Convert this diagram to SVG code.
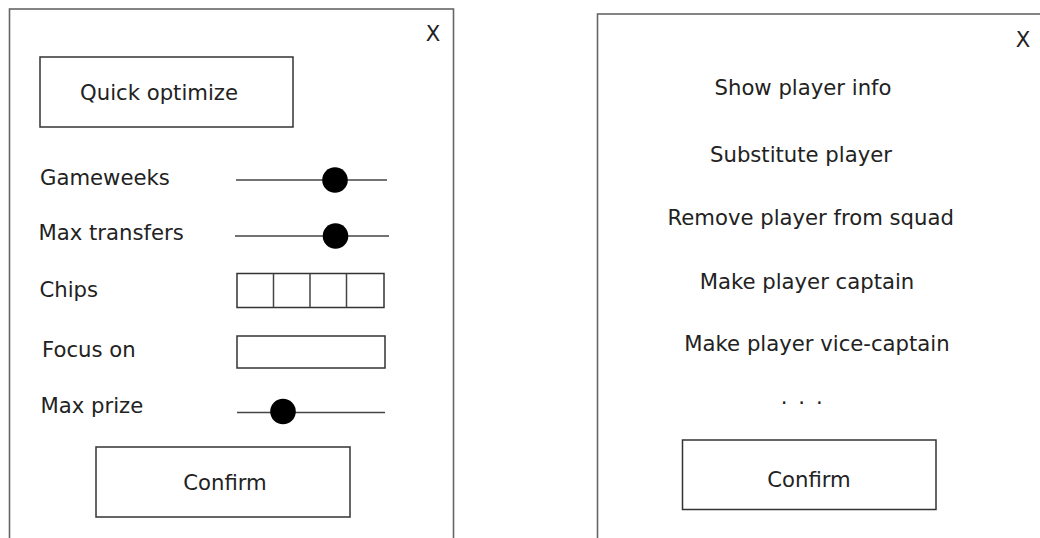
<svg xmlns="http://www.w3.org/2000/svg" width="1040" height="538" viewBox="0 0 1040 538">
<style>
.panel{fill:#fff;stroke:#666;stroke-width:1.6}
.box{fill:#fff;stroke:#333;stroke-width:1.5}
.track{stroke:#444;stroke-width:1.5;fill:none}
.knob{fill:#000}
text{font-family:"DejaVu Sans",Verdana,sans-serif;font-size:21.2px;fill:#222}
.c{text-anchor:middle}
</style>
<rect width="1040" height="538" fill="#fff"/>
<g id="left-panel">
<rect class="panel" x="9.5" y="9" width="444" height="600"/>
<text class="c" x="433" y="41">X</text>
</g>
<g id="quick-optimize">
<rect class="box" x="40" y="57" width="253" height="70"/>
<text class="c" x="159" y="100">Quick optimize</text>
</g>
<g id="gameweeks">
<text x="40" y="185">Gameweeks</text>
<line class="track" x1="236" y1="180" x2="387" y2="180"/>
<circle class="knob" cx="335" cy="180" r="12.8"/>
</g>
<g id="max-transfers">
<text x="38.5" y="240">Max transfers</text>
<line class="track" x1="235" y1="236" x2="389" y2="236"/>
<circle class="knob" cx="335.5" cy="236" r="12.8"/>
</g>
<g id="chips">
<text x="39.5" y="297">Chips</text>
<rect class="box" x="237" y="273.5" width="147" height="34"/>
<line class="track" x1="273.5" y1="273.5" x2="273.5" y2="307.5"/>
<line class="track" x1="310" y1="273.5" x2="310" y2="307.5"/>
<line class="track" x1="346.5" y1="273.5" x2="346.5" y2="307.5"/>
</g>
<g id="focus-on">
<text x="42" y="357">Focus on</text>
<rect class="box" x="237" y="336" width="148" height="32"/>
</g>
<g id="max-prize">
<text x="40.5" y="413">Max prize</text>
<line class="track" x1="237" y1="412.5" x2="385" y2="412.5"/>
<circle class="knob" cx="283" cy="411.5" r="12.8"/>
</g>
<g id="confirm-left">
<rect class="box" x="96" y="447" width="254" height="70"/>
<text class="c" x="225" y="490">Confirm</text>
</g>
<g id="right-panel">
<rect class="panel" x="597.5" y="14" width="500" height="600"/>
<text class="c" x="1023" y="47">X</text>
</g>
<g id="menu">
<text class="c" x="803" y="95">Show player info</text>
<text class="c" x="801" y="162">Substitute player</text>
<text class="c" x="810.7" y="224.5">Remove player from squad</text>
<text class="c" x="807" y="288.5">Make player captain</text>
<text class="c" x="817" y="351">Make player vice-captain</text>
<text class="c" x="801.7" y="404" word-spacing="4.2">. . .</text>
</g>
<g id="confirm-right">
<rect class="box" x="682.5" y="440" width="253.5" height="69.5"/>
<text class="c" x="809" y="487">Confirm</text>
</g>
<g id="connectors"/>
</svg>
